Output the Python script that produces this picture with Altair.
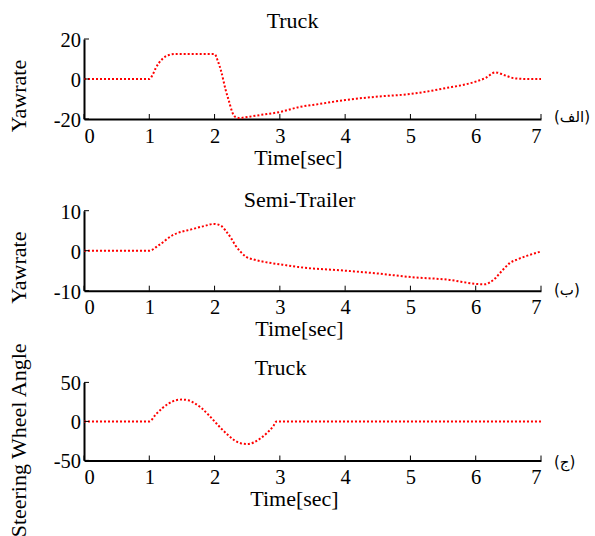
import altair as alt
import pandas as pd

# ---- data ----
time_truck = [0, 1.0, 1.05, 1.1, 1.2, 1.3, 1.4, 1.6, 1.8, 2.0, 2.05, 2.1, 2.17, 2.22, 2.27,
              2.32, 2.38, 2.5, 2.7, 3.0, 3.3, 3.6, 4.0, 4.5, 5.0, 5.5, 6.0, 6.15, 6.3, 6.45,
              6.6, 6.8, 7.0]
yaw_truck = [0, 0, 2, 5.5, 10, 12, 12.5, 12.5, 12.5, 12.5, 9, 4, -5.5, -11, -16.5,
             -19, -19.5, -19, -18, -16.5, -14, -12.5, -10.5, -8.8, -7.5, -4.8, -1.3, 0.5, 3.3, 1.8,
             0.3, 0, 0]

time_trailer = [0, 1.0, 1.14, 1.35, 1.66, 1.85, 1.99, 2.1, 2.17, 2.25, 2.32, 2.4, 2.48, 2.6,
                2.73, 3.04, 3.29, 4.01, 4.5, 5.01, 5.6, 6.01, 6.15, 6.22, 6.3, 6.37, 6.45,
                6.52, 6.65, 6.78, 7.0]
yaw_trailer = [0, 0, 1.3, 3.8, 5.4, 6.2, 6.7, 6.2, 5, 3.2, 1.3, -0.3, -1.5, -2.2,
               -2.7, -3.5, -4.1, -5, -5.7, -6.6, -7.3, -8.3, -8.4, -7.9, -6.9, -5.6, -4.2,
               -3.1, -2.1, -1.3, -0.2]

time_steer = [0, 1.0, 1.1, 1.2, 1.3, 1.4, 1.5, 1.6, 1.7, 1.8, 1.9, 2.0, 2.1, 2.2, 2.3, 2.4,
              2.5, 2.6, 2.7, 2.8, 2.9, 2.95, 7.0]
steer_angle = [0, 0, 9, 17, 23, 27, 28, 27, 23, 17, 9, 0, -9, -17, -24, -28,
               -29, -27, -22, -15, -6, 0, 0]

x_tick_values = [0, 1, 2, 3, 4, 5, 6, 7]
x_domain = [0, 7]
panel_titles = ["Truck", "Semi-Trailer", "Truck"]
y_titles = ["Yawrate", "Yawrate", "Steering Wheel Angle"]
y_domains = [[-20, 20], [-10, 10], [-50, 50]]
y_tick_values = [[-20, 0, 20], [-10, 0, 10], [-50, 0, 50]]
y_tick_labels = [["-20", "0", "20"], ["-10", "0", "10"], ["-50", "0", "50"]]
panel_tags = ["(الف)", "(ب)", "(ج)"]
x_title = "Time[sec]"

SERIF = "Liberation Serif"
PLOT_W = 457


def panel(i, t, v, height, title_offset, title_dx, xtitle_x, tag_dy, ytitle_y):
    ymin, ymax = y_domains[i]
    xs = alt.Scale(domain=x_domain, nice=False, zero=False)
    ys = alt.Scale(domain=[ymin, ymax], nice=False, zero=False)
    df = pd.DataFrame({"t": t, "v": v})
    line = alt.Chart(df).mark_line(
        color="#ff0000", strokeDash=[2, 2], strokeWidth=2, interpolate="monotone"
    ).encode(
        x=alt.X("t:Q", scale=xs, axis=alt.Axis(
            values=x_tick_values, title=x_title, titleX=xtitle_x, titleY=45,
            titleBaseline="alphabetic", labelBaseline="alphabetic", labelPadding=23,
            labelOverlap=False, labelExpr="'' + datum.value")),
        y=alt.Y("v:Q", scale=ys, axis=alt.Axis(
            values=y_tick_values[i], title=None, labels=False)),
    )
    xt = pd.DataFrame({"x": x_tick_values,
                       "y0": [ymin] * len(x_tick_values),
                       "y1": [ymin + 0.0625 * (ymax - ymin)] * len(x_tick_values)})
    xtick = alt.Chart(xt).mark_rule(color="black", strokeWidth=1).encode(
        x=alt.X("x:Q", scale=xs),
        y=alt.Y("y0:Q", scale=ys),
        y2="y1:Q",
    )
    yt = pd.DataFrame({"y": y_tick_values[i],
                       "x0": [0] * 3,
                       "x1": [0.077] * 3,
                       "label": y_tick_labels[i]})
    ytick = alt.Chart(yt).mark_rule(color="black", strokeWidth=1).encode(
        y=alt.Y("y:Q", scale=ys),
        x=alt.X("x0:Q", scale=xs),
        x2="x1:Q",
    )
    ylab = alt.Chart(yt).mark_text(
        align="right", baseline="middle", dx=-3, dy=2,
        font=SERIF, fontSize=20.5, color="black"
    ).encode(
        y=alt.Y("y:Q", scale=ys),
        x=alt.X("x0:Q", scale=xs),
        text="label:N",
    )
    tg = pd.DataFrame({"x": [x_domain[1]], "y": [ymin], "label": [panel_tags[i]]})
    tag = alt.Chart(tg).mark_text(
        align="left", baseline="middle", dx=13, dy=tag_dy,
        font="DejaVu Sans", fontSize=15, color="black"
    ).encode(
        x=alt.X("x:Q", scale=xs),
        y=alt.Y("y:Q", scale=ys),
        text="label:N",
    )
    # panel title (as text, centred over the plot)
    tt = pd.DataFrame({"x": [sum(x_domain) / 2], "y": [ymax], "label": [panel_titles[i]]})
    title = alt.Chart(tt).mark_text(
        align="center", baseline="alphabetic", dx=title_dx, dy=-title_offset,
        font=SERIF, fontSize=22, color="black"
    ).encode(
        x=alt.X("x:Q", scale=xs),
        y=alt.Y("y:Q", scale=ys),
        text="label:N",
    )
    # y-axis title (rotated text; dx/dy act in the rotated frame)
    yl = pd.DataFrame({"x": [x_domain[0]], "y": [ymax], "label": [y_titles[i]]})
    ytitle = alt.Chart(yl).mark_text(
        align="center", baseline="middle", angle=270, dx=-ytitle_y, dy=-65,
        font=SERIF, fontSize=22, color="black"
    ).encode(
        x=alt.X("x:Q", scale=xs),
        y=alt.Y("y:Q", scale=ys),
        text="label:N",
    )
    return alt.layer(line, xtick, ytick, ylab, tag, title, ytitle).properties(
        width=PLOT_W, height=height,
    )


p1 = panel(0, time_truck, yaw_truck, 80, 11, -20, 214, -2, 57)
p2 = panel(1, time_trailer, yaw_trailer, 80, 4, -13, 215, -1, 57)
p3 = panel(2, time_steer, steer_angle, 78, 7, -32, 210, 2, 58)

chart = alt.vconcat(p1, p2, p3, spacing=91.7, bounds="flush").configure_view(
    stroke=None
).configure_axis(
    grid=False, ticks=False, tickSize=0, domainColor="black", domainWidth=2,
    labelFont=SERIF, labelFontSize=20.5, labelColor="black",
    titleFont=SERIF, titleFontSize=22, titleFontWeight="normal", titleColor="black",
).properties(
    background="white",
    padding={"left": 7, "top": 10, "right": 0, "bottom": 0},
)

chart.save("out.html", embed_options={"renderer": "svg", "actions": False})
